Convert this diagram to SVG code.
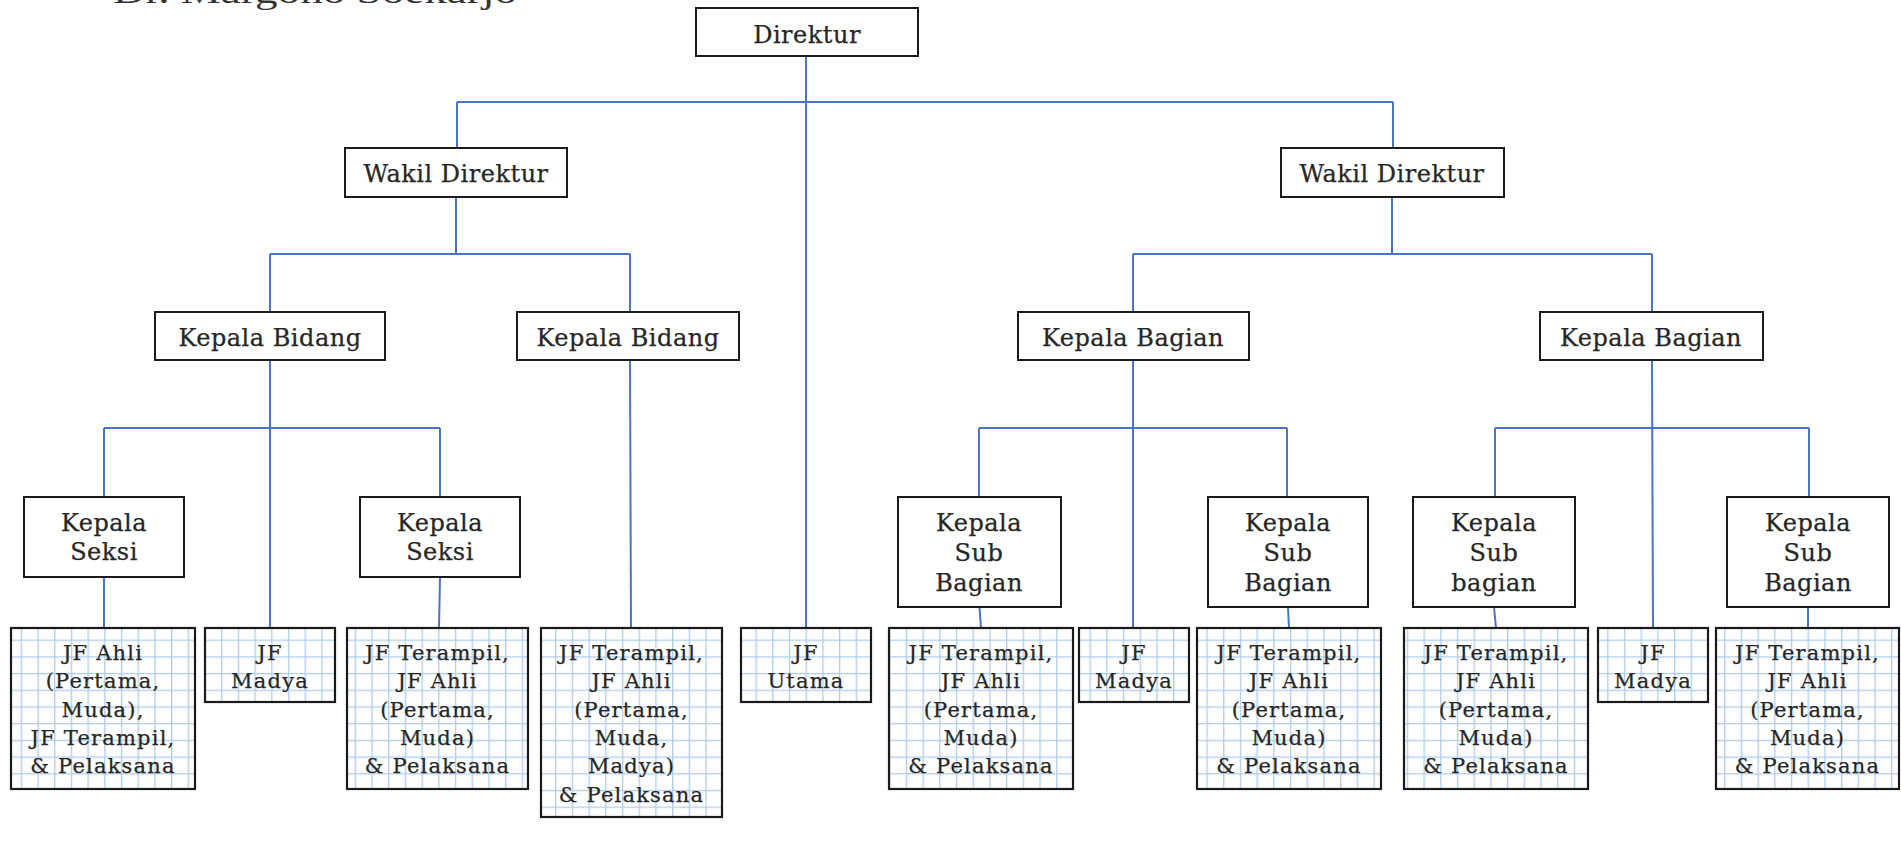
<svg xmlns="http://www.w3.org/2000/svg" width="1901" height="857" viewBox="0 0 1901 857">
<style>
.box{fill:#fff;stroke:#1a1a1a;stroke-width:2}
.gbox{fill:url(#grid);stroke:#1a1a1a;stroke-width:2.2}
.t{font-family:"DejaVu Serif","Liberation Serif",serif;font-size:24px;letter-spacing:0.5px;fill:#262626;stroke:#262626;stroke-width:0.25;text-anchor:middle}
.s{font-family:"DejaVu Serif","Liberation Serif",serif;font-size:21px;letter-spacing:1.2px;fill:#262626;stroke:#262626;stroke-width:0.25;text-anchor:middle}
.title{font-family:"Liberation Serif",serif;font-size:32px;fill:#333}
#connectors path{fill:none;stroke:#4a74c4;stroke-width:2}
</style>
<defs>
<pattern id="grid" patternUnits="userSpaceOnUse" width="16.7" height="16.7" x="4" y="5">
<rect width="16.7" height="16.7" fill="#fff"/>
<path d="M0 0.6H16.7M0.6 0V16.7" stroke="#aecdee" stroke-width="1.4" fill="none"/>
</pattern>
</defs>
<rect width="1901" height="857" fill="#fff"/>
<text class="title" x="113" y="3" textLength="404" lengthAdjust="spacingAndGlyphs">Dr. Margono Soekarjo</text>

<g id="connectors">
<path d="M806 56V628"/>
<path d="M457 102H1393M457 102V148M1393 102V148"/>
<path d="M456 197V254M270 254H630M270 254V312M630 254V312"/>
<path d="M1392 197V254M1133 254H1652M1133 254V312M1652 254V312"/>
<path d="M270 360V628M104 428H440M104 428V497M440 428V497"/>
<path d="M104 577L104 628M440 577L439 628"/>
<path d="M630 360L631 628"/>
<path d="M1133 360V628M979 428H1287M979 428V497M1287 428V497"/>
<path d="M979.5 607L981 628M1288 607L1289 628"/>
<path d="M1652 360L1653 628M1495 428H1809M1495 428V497M1809 428V497"/>
<path d="M1494 607L1496 628M1808 607V628"/>
</g>

<g id="direktur"><rect class="box" x="696" y="8" width="222" height="48"/><text class="t" x="807" y="43">Direktur</text></g>
<g id="wakil-direktur-1"><rect class="box" x="345" y="148" width="222" height="49"/><text class="t" x="456" y="182">Wakil Direktur</text></g>
<g id="wakil-direktur-2"><rect class="box" x="1281" y="148" width="223" height="49"/><text class="t" x="1392" y="182">Wakil Direktur</text></g>
<g id="kepala-bidang-1"><rect class="box" x="155" y="312" width="230" height="48"/><text class="t" x="270" y="346">Kepala Bidang</text></g>
<g id="kepala-bidang-2"><rect class="box" x="517" y="312" width="222" height="48"/><text class="t" x="628" y="346">Kepala Bidang</text></g>
<g id="kepala-bagian-1"><rect class="box" x="1018" y="312" width="231" height="48"/><text class="t" x="1133" y="346">Kepala Bagian</text></g>
<g id="kepala-bagian-2"><rect class="box" x="1540" y="312" width="223" height="48"/><text class="t" x="1651" y="346">Kepala Bagian</text></g>
<g id="kepala-seksi-1"><rect class="box" x="24" y="497" width="160" height="80"/><text class="t" x="104" y="531">Kepala</text><text class="t" x="104" y="560">Seksi</text></g>
<g id="kepala-seksi-2"><rect class="box" x="360" y="497" width="160" height="80"/><text class="t" x="440" y="531">Kepala</text><text class="t" x="440" y="560">Seksi</text></g>
<g id="kepala-sub-bagian-1"><rect class="box" x="898" y="497" width="163" height="110"/><text class="t" x="979" y="531">Kepala</text><text class="t" x="979" y="561">Sub</text><text class="t" x="979" y="591">Bagian</text></g>
<g id="kepala-sub-bagian-2"><rect class="box" x="1208" y="497" width="160" height="110"/><text class="t" x="1288" y="531">Kepala</text><text class="t" x="1288" y="561">Sub</text><text class="t" x="1288" y="591">Bagian</text></g>
<g id="kepala-sub-bagian-3"><rect class="box" x="1413" y="497" width="162" height="110"/><text class="t" x="1494" y="531">Kepala</text><text class="t" x="1494" y="561">Sub</text><text class="t" x="1494" y="591">bagian</text></g>
<g id="kepala-sub-bagian-4"><rect class="box" x="1727" y="497" width="162" height="110"/><text class="t" x="1808" y="531">Kepala</text><text class="t" x="1808" y="561">Sub</text><text class="t" x="1808" y="591">Bagian</text></g>

<g id="jf-a"><rect class="gbox" x="11" y="628" width="184" height="161"/><text class="s" x="103" y="660">JF Ahli</text><text class="s" x="103" y="688">(Pertama,</text><text class="s" x="103" y="717">Muda),</text><text class="s" x="103" y="745">JF Terampil,</text><text class="s" x="103" y="773">&amp; Pelaksana</text></g>
<g id="jf-madya-1"><rect class="gbox" x="205" y="628" width="130" height="74"/><text class="s" x="270" y="660">JF</text><text class="s" x="270" y="688">Madya</text></g>
<g id="jf-c"><rect class="gbox" x="347" y="628" width="181" height="161"/><text class="s" x="437.5" y="660">JF Terampil,</text><text class="s" x="437.5" y="688">JF Ahli</text><text class="s" x="437.5" y="717">(Pertama,</text><text class="s" x="437.5" y="745">Muda)</text><text class="s" x="437.5" y="773">&amp; Pelaksana</text></g>
<g id="jf-d"><rect class="gbox" x="541" y="628" width="181" height="189"/><text class="s" x="631.5" y="660">JF Terampil,</text><text class="s" x="631.5" y="688">JF Ahli</text><text class="s" x="631.5" y="717">(Pertama,</text><text class="s" x="631.5" y="745">Muda,</text><text class="s" x="631.5" y="773">Madya)</text><text class="s" x="631.5" y="802">&amp; Pelaksana</text></g>
<g id="jf-utama"><rect class="gbox" x="741" y="628" width="130" height="74"/><text class="s" x="806" y="660">JF</text><text class="s" x="806" y="688">Utama</text></g>
<g id="jf-f"><rect class="gbox" x="889" y="628" width="184" height="161"/><text class="s" x="981" y="660">JF Terampil,</text><text class="s" x="981" y="688">JF Ahli</text><text class="s" x="981" y="717">(Pertama,</text><text class="s" x="981" y="745">Muda)</text><text class="s" x="981" y="773">&amp; Pelaksana</text></g>
<g id="jf-madya-2"><rect class="gbox" x="1079" y="628" width="110" height="74"/><text class="s" x="1134" y="660">JF</text><text class="s" x="1134" y="688">Madya</text></g>
<g id="jf-g"><rect class="gbox" x="1197" y="628" width="184" height="161"/><text class="s" x="1289" y="660">JF Terampil,</text><text class="s" x="1289" y="688">JF Ahli</text><text class="s" x="1289" y="717">(Pertama,</text><text class="s" x="1289" y="745">Muda)</text><text class="s" x="1289" y="773">&amp; Pelaksana</text></g>
<g id="jf-h"><rect class="gbox" x="1404" y="628" width="184" height="161"/><text class="s" x="1496" y="660">JF Terampil,</text><text class="s" x="1496" y="688">JF Ahli</text><text class="s" x="1496" y="717">(Pertama,</text><text class="s" x="1496" y="745">Muda)</text><text class="s" x="1496" y="773">&amp; Pelaksana</text></g>
<g id="jf-madya-3"><rect class="gbox" x="1598" y="628" width="110" height="74"/><text class="s" x="1653" y="660">JF</text><text class="s" x="1653" y="688">Madya</text></g>
<g id="jf-j"><rect class="gbox" x="1716" y="628" width="183" height="161"/><text class="s" x="1807.5" y="660">JF Terampil,</text><text class="s" x="1807.5" y="688">JF Ahli</text><text class="s" x="1807.5" y="717">(Pertama,</text><text class="s" x="1807.5" y="745">Muda)</text><text class="s" x="1807.5" y="773">&amp; Pelaksana</text></g>
</svg>
